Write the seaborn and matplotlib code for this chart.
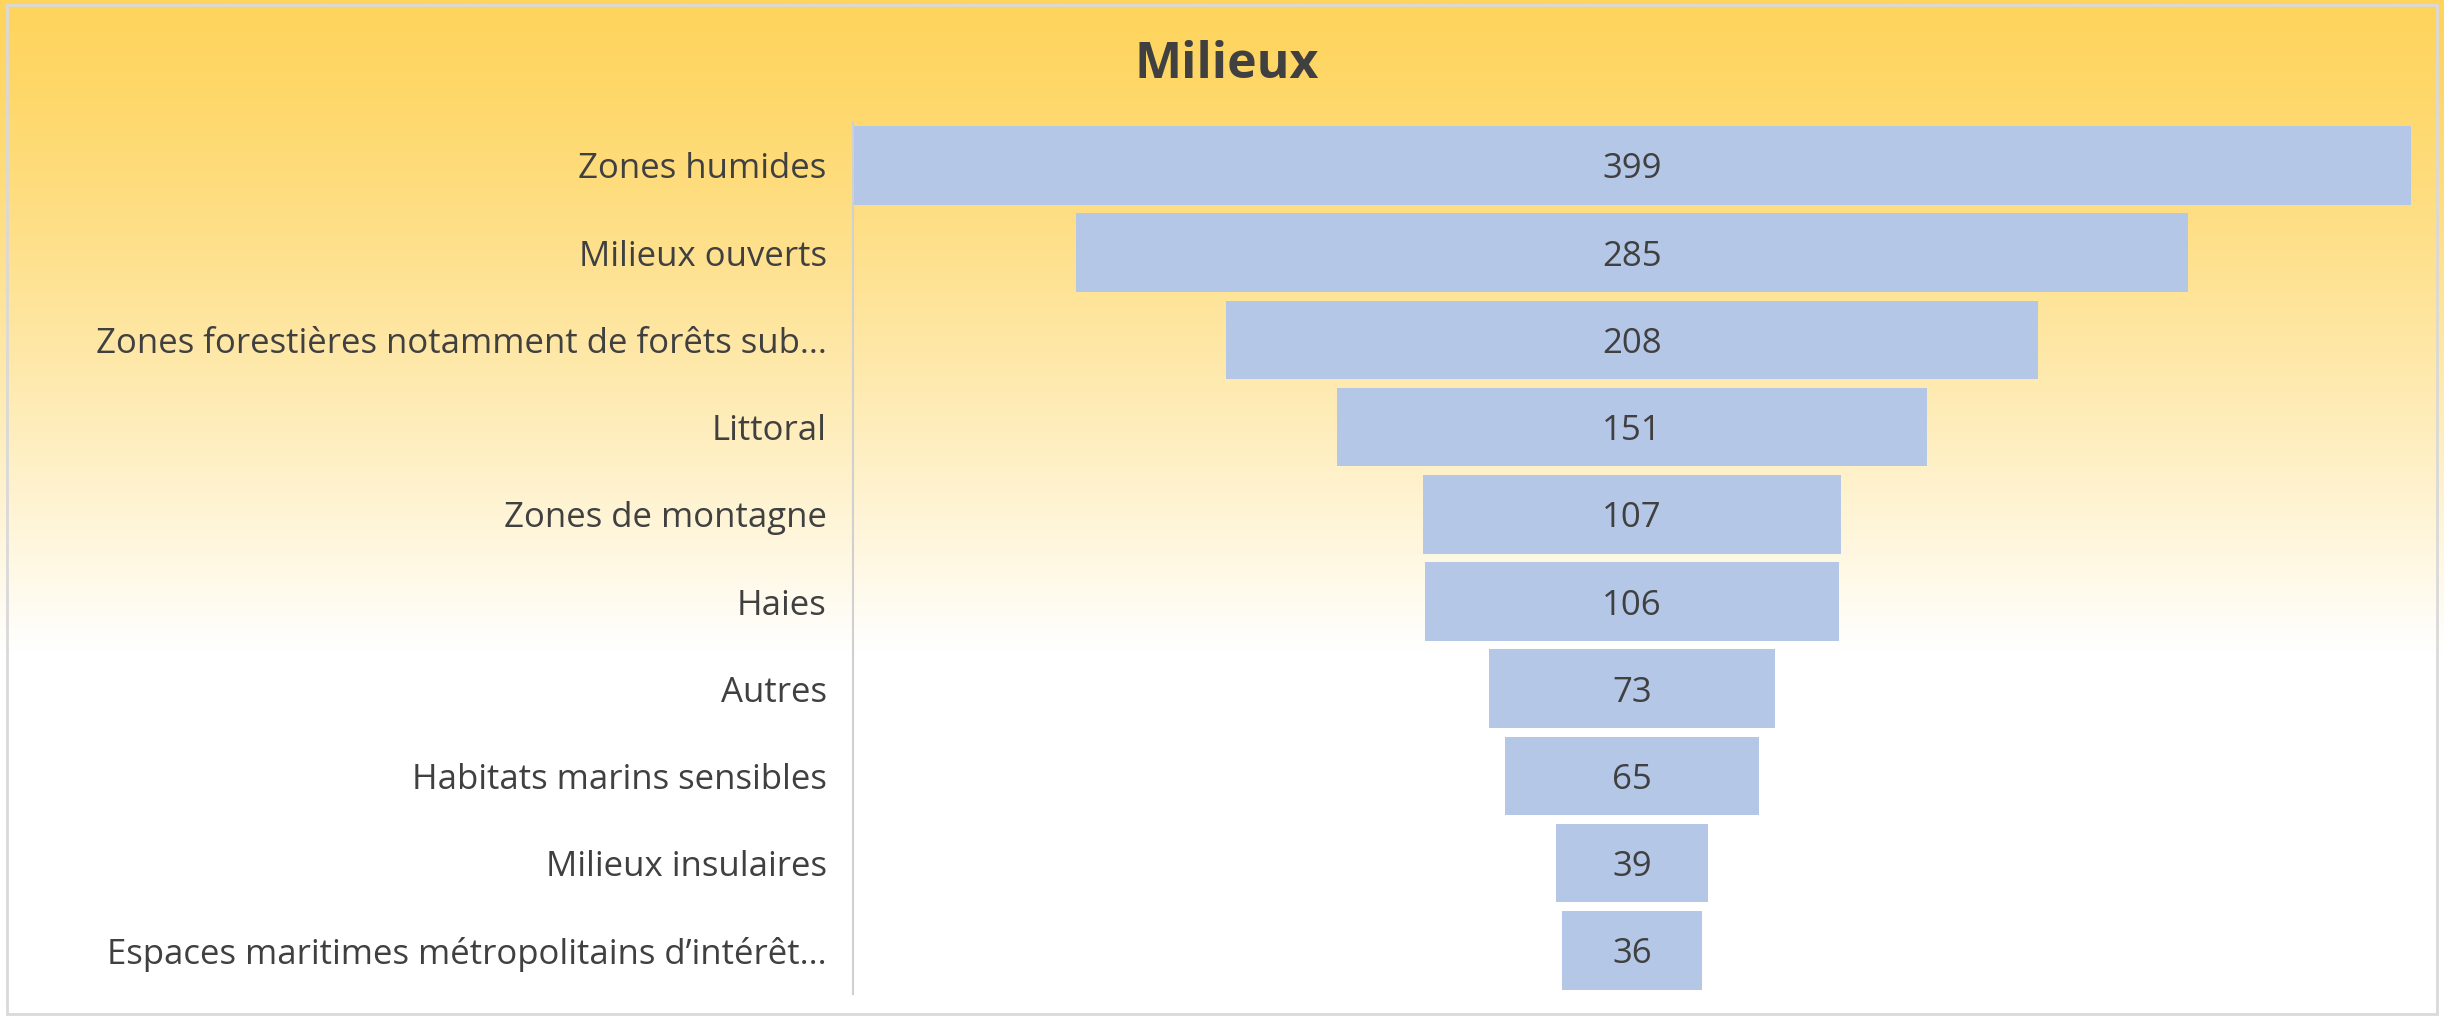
import numpy as np
import seaborn as sns
import matplotlib.pyplot as plt
from matplotlib.patches import Rectangle

categories = [
    "Zones humides",
    "Milieux ouverts",
    "Zones forestières notamment de forêts sub...",
    "Littoral",
    "Zones de montagne",
    "Haies",
    "Autres",
    "Habitats marins sensibles",
    "Milieux insulaires",
    "Espaces maritimes métropolitains d’intérêt...",
]
values = [399, 285, 208, 151, 107, 106, 73, 65, 39, 36]
title = "Milieux"

sns.set_theme(style="white")
plt.rcParams["font.family"] = ["Open Sans", "DejaVu Sans"]

bar_color = "#B4C7E7"
text_color = "#404040"

fig = plt.figure(figsize=(24.44, 10.19), dpi=100)

# background gradient (orange-yellow at top fading to white)
bg = fig.add_axes([0, 0, 1, 1], zorder=-10)
h = 400
t = np.linspace(0, 1, h)[:, None]
top = np.array([254, 212, 92]) / 255
fade = np.clip(t / 0.64, 0, 1) ** 1.25
grad = top[None, :] * (1 - fade) + np.ones(3)[None, :] * fade
img = np.repeat(grad[:, None, :], 10, axis=1).reshape(h, 10, 3)
bg.imshow(img, aspect="auto", extent=[0, 1, 0, 1])
bg.set_axis_off()

ax = fig.add_axes([0.349, 0.0245, 0.6375, 0.856])
ax.set_facecolor("none")

half = np.array(values) / 2
sns.barplot(x=half, y=categories, color=bar_color, width=0.9, linewidth=0,
            saturation=1, ax=ax, orient="h")
sns.barplot(x=-half, y=categories, color=bar_color, width=0.9, linewidth=0,
            saturation=1, ax=ax, orient="h")

ax.set_xlim(-max(values) / 2, max(values) / 2)
ax.set_ylim(len(categories) - 0.5, -0.5)
for i, v in enumerate(values):
    ax.text(0, i, str(v), ha="center", va="center_baseline", fontsize=25,
            color=text_color)

ax.set_xticks([])
ax.set_xlabel("")
ax.set_ylabel("")
ax.tick_params(axis="y", length=0, pad=19, labelsize=25, labelcolor=text_color)
for s in ["top", "right", "bottom"]:
    ax.spines[s].set_visible(False)
ax.spines["left"].set_color("#D0D0D0")
ax.spines["left"].set_linewidth(1.5)

fig.text(0.502, 0.936, title, ha="center", va="center", fontsize=36,
         fontweight="bold", color=text_color)

fig.patches.append(Rectangle((0.003, 0.005), 0.994, 0.99, transform=fig.transFigure,
                             fill=False, edgecolor="#D9D9D9", linewidth=2))

fig.savefig("out.png", dpi=100)
